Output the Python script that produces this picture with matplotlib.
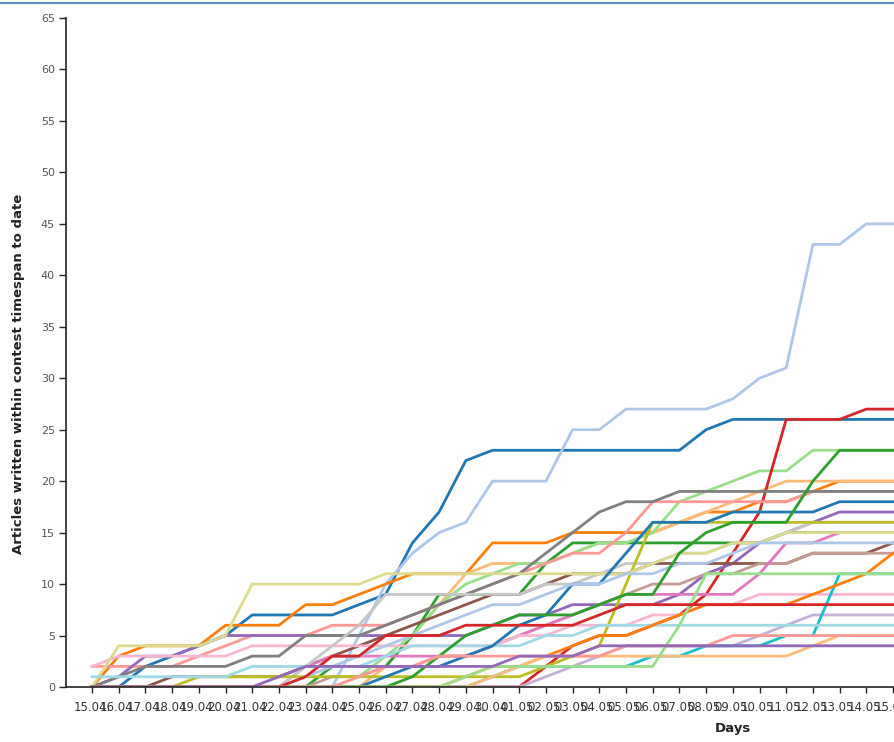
import numpy as np
import matplotlib.pyplot as plt
from matplotlib.lines import Line2D

# day labels 15.04. .. 15.05.
days = ['15.04.', '16.04.', '17.04.', '18.04.', '19.04.', '20.04.', '21.04.', '22.04.',
        '23.04.', '24.04.', '25.04.', '26.04.', '27.04.', '28.04.', '29.04.', '30.04.',
        '01.05.', '02.05.', '03.05.', '04.05.', '05.05.', '06.05.', '07.05.', '08.05.',
        '09.05.', '10.05.', '11.05.', '12.05.', '13.05.', '14.05.', '15.05.']

# cumulative articles per contestant
blue_a = [0, 0, 2, 3, 4, 5, 7, 7, 7, 7, 8, 9, 14, 17, 22, 23, 23, 23, 23, 23, 23, 23, 23, 25, 26, 26, 26, 26, 26, 26, 26]
lblue_a = [0, 0, 0, 0, 0, 0, 0, 0, 0, 0, 5, 10, 13, 15, 16, 20, 20, 20, 25, 25, 27, 27, 27, 27, 28, 30, 31, 43, 43, 45, 45]
orange_a = [0, 3, 4, 4, 4, 6, 6, 6, 8, 8, 9, 10, 11, 11, 11, 14, 14, 14, 15, 15, 15, 15, 16, 17, 17, 18, 18, 19, 20, 20, 20]
lorange_a = [0, 0, 0, 0, 0, 0, 0, 0, 0, 0, 0, 2, 5, 8, 11, 12, 12, 12, 13, 14, 14, 15, 16, 17, 18, 19, 20, 20, 20, 20, 20]
green_a = [0, 0, 0, 0, 0, 0, 0, 0, 0, 2, 2, 2, 5, 9, 9, 9, 9, 12, 14, 14, 14, 14, 14, 14, 14, 14, 15, 15, 15, 15, 15]
lgreen_a = [0, 0, 0, 0, 0, 0, 0, 0, 0, 0, 1, 3, 5, 8, 10, 11, 12, 12, 13, 14, 14, 15, 18, 19, 20, 21, 21, 23, 23, 23, 23]
red_a = [0, 0, 0, 0, 0, 0, 0, 0, 0, 0, 0, 0, 0, 0, 0, 0, 0, 2, 4, 5, 5, 6, 7, 9, 13, 17, 26, 26, 26, 27, 27]
lred_a = [2, 2, 2, 2, 3, 4, 5, 5, 5, 6, 6, 6, 7, 8, 9, 10, 11, 12, 13, 13, 15, 18, 18, 18, 18, 18, 18, 19, 19, 19, 19]
purple_a = [0, 1, 3, 3, 4, 5, 5, 5, 5, 5, 5, 5, 5, 5, 5, 6, 7, 7, 8, 8, 8, 8, 9, 11, 12, 14, 15, 16, 17, 17, 17]
lpurple_a = [0, 0, 0, 0, 0, 0, 0, 0, 0, 0, 0, 0, 0, 0, 0, 0, 0, 1, 2, 3, 4, 4, 4, 4, 4, 5, 6, 7, 7, 7, 7]
brown_a = [0, 0, 0, 1, 1, 1, 1, 1, 2, 3, 4, 5, 6, 7, 8, 9, 9, 10, 11, 11, 11, 12, 12, 12, 12, 12, 12, 13, 13, 13, 14]
lbrown_a = [0, 0, 0, 0, 0, 0, 0, 0, 0, 1, 1, 2, 2, 3, 3, 4, 5, 6, 7, 8, 9, 10, 10, 11, 11, 12, 12, 13, 13, 13, 13]
pink_a = [0, 0, 0, 0, 0, 0, 0, 0, 2, 3, 3, 3, 3, 3, 3, 4, 5, 6, 7, 8, 9, 9, 9, 9, 9, 11, 14, 14, 15, 15, 15]
lpink_a = [2, 3, 3, 3, 3, 3, 4, 4, 4, 4, 4, 4, 4, 4, 4, 4, 5, 5, 6, 6, 6, 7, 7, 8, 8, 9, 9, 9, 9, 9, 9]
gray_a = [0, 1, 2, 2, 2, 2, 3, 3, 5, 5, 5, 6, 7, 8, 9, 10, 11, 13, 15, 17, 18, 18, 19, 19, 19, 19, 19, 19, 19, 19, 19]
lgray_a = [0, 0, 0, 0, 0, 0, 0, 0, 2, 4, 6, 9, 9, 9, 9, 9, 9, 10, 10, 11, 12, 12, 13, 13, 14, 14, 15, 16, 16, 16, 16]
olive_a = [0, 0, 0, 0, 1, 1, 1, 1, 1, 1, 1, 1, 1, 1, 1, 1, 1, 2, 3, 4, 10, 16, 16, 16, 16, 16, 16, 16, 16, 16, 16]
lolive_a = [0, 4, 4, 4, 4, 5, 10, 10, 10, 10, 10, 11, 11, 11, 11, 11, 11, 11, 11, 11, 11, 12, 13, 13, 14, 14, 15, 15, 15, 15, 15]
cyan_a = [0, 0, 0, 0, 0, 0, 0, 0, 0, 0, 0, 0, 0, 0, 0, 1, 2, 2, 2, 2, 2, 3, 3, 4, 4, 4, 5, 5, 11, 11, 11]
lcyan_a = [1, 1, 1, 1, 1, 1, 2, 2, 2, 2, 2, 3, 4, 4, 4, 4, 4, 5, 5, 6, 6, 6, 6, 6, 6, 6, 6, 6, 6, 6, 6]
blue_b = [0, 0, 0, 0, 0, 0, 0, 0, 0, 0, 0, 1, 2, 2, 3, 4, 6, 7, 10, 10, 13, 16, 16, 16, 17, 17, 17, 17, 18, 18, 18]
lblue_b = [0, 0, 0, 0, 0, 0, 0, 0, 1, 2, 3, 4, 5, 6, 7, 8, 8, 9, 10, 10, 11, 11, 12, 12, 13, 14, 14, 14, 14, 14, 14]
orange_b = [0, 0, 0, 0, 0, 0, 0, 0, 0, 0, 0, 0, 0, 0, 1, 2, 2, 3, 4, 5, 5, 6, 7, 8, 8, 8, 8, 9, 10, 11, 13]
lorange_b = [0, 0, 0, 0, 0, 0, 0, 0, 0, 0, 0, 0, 0, 0, 0, 1, 2, 3, 3, 3, 3, 3, 3, 3, 3, 3, 3, 4, 5, 5, 5]
green_b = [0, 0, 0, 0, 0, 0, 0, 0, 0, 0, 0, 0, 1, 3, 5, 6, 7, 7, 7, 8, 9, 9, 13, 15, 16, 16, 16, 20, 23, 23, 23]
lgreen_b = [0, 0, 0, 0, 0, 0, 0, 0, 0, 0, 0, 0, 0, 0, 1, 2, 2, 2, 2, 2, 2, 2, 6, 11, 11, 11, 11, 11, 11, 11, 11]
red_b = [0, 0, 0, 0, 0, 0, 0, 0, 1, 3, 3, 5, 5, 5, 6, 6, 6, 6, 6, 7, 8, 8, 8, 8, 8, 8, 8, 8, 8, 8, 8]
lred_b = [0, 0, 0, 0, 0, 0, 0, 0, 0, 0, 1, 2, 2, 3, 3, 3, 3, 3, 3, 3, 4, 4, 4, 4, 5, 5, 5, 5, 5, 5, 5]
purple_b = [0, 0, 0, 0, 0, 0, 0, 1, 2, 2, 2, 2, 2, 2, 2, 2, 3, 3, 3, 4, 4, 4, 4, 4, 4, 4, 4, 4, 4, 4, 4]

# order follows the tab20 colour cycle (second round starts again at blue)
series = [blue_a, lblue_a, orange_a, lorange_a, green_a, lgreen_a, red_a, lred_a,
          purple_a, lpurple_a, brown_a, lbrown_a, pink_a, lpink_a, gray_a, lgray_a,
          olive_a, lolive_a, cyan_a, lcyan_a,
          blue_b, lblue_b, orange_b, lorange_b, green_b, lgreen_b, red_b, lred_b, purple_b]

W, H = 895, 742
fig = plt.figure(figsize=(W / 100, H / 100), dpi=100)
ax = fig.add_axes([66 / W, (H - 687) / H, 1 - 66 / W, (687 - 18) / H])
ax.set_prop_cycle(color=plt.get_cmap('tab20').colors)

x = np.arange(len(days))
for s in series:
    ax.plot(x, s, lw=2)

ax.set_xlim((66 - 92) / 26.7, (W - 92) / 26.7)
ax.set_ylim(0, 65)
ax.set_yticks(range(0, 66, 5))
ax.set_xticks(x)
ax.set_xticklabels(days)

for side in ['top', 'right']:
    ax.spines[side].set_visible(False)
for side in ['left', 'bottom']:
    ax.spines[side].set_color('#222222')
    ax.spines[side].set_linewidth(1.2)

ax.tick_params(axis='y', direction='out', length=5, width=1, colors='#222222',
               labelcolor='#555555', labelsize=8, pad=3)
ax.tick_params(axis='x', direction='out', length=4, width=1, colors='#222222',
               labelcolor='#333333', labelsize=8.5, pad=6)

ax.set_ylabel('Articles written within contest timespan to date', fontsize=9.5,
              fontweight='bold', color='#222222')
ax.yaxis.set_label_coords(-(66 - 25) / (W - 66), (687 - 374) / (687 - 18))
ax.set_xlabel('Days', fontsize=9.5, fontweight='bold', color='#222222')
ax.xaxis.set_label_coords((733 - 66) / (W - 66), -(722 - 687) / (687 - 18))

# thin page border line at the very top
fig.add_artist(Line2D([0, 1], [1 - 3 / H, 1 - 3 / H], transform=fig.transFigure,
                      color='#5b8fc7', lw=1.5))

fig.savefig('out.png', dpi=100)
